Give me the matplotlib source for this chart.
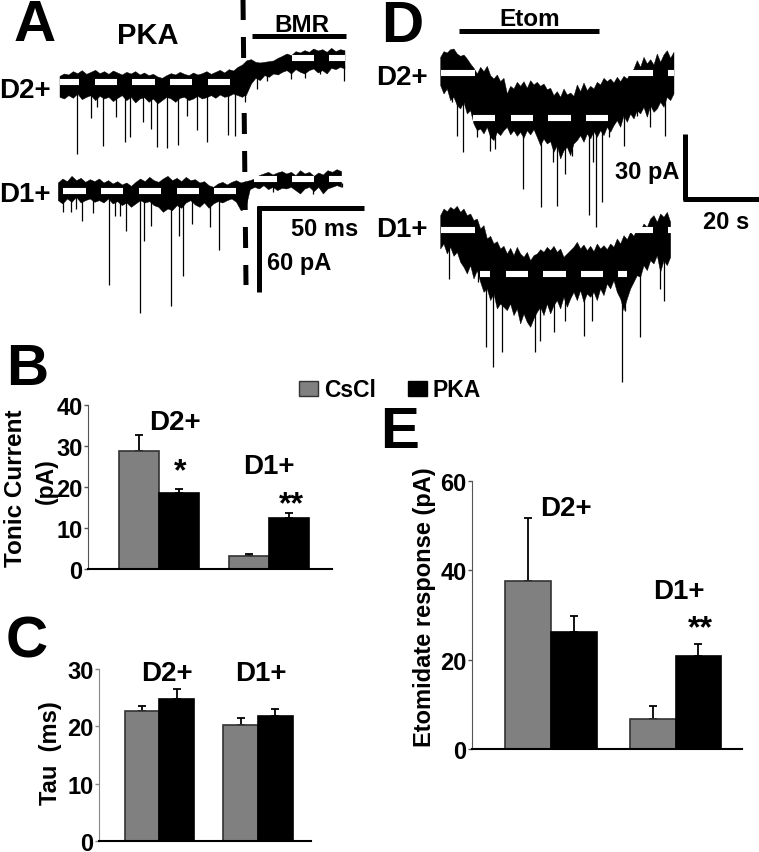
import numpy as np
import matplotlib
matplotlib.use("Agg")
import matplotlib.pyplot as plt
from matplotlib.patches import Patch

plt.rcParams['font.family'] = ['Liberation Sans', 'DejaVu Sans']
plt.rcParams['font.weight'] = 'bold'

W, H = 759, 853
GRAY = '#808080'

groups = ["D2+", "D1+"]

# bar panels: mean and top of the error bar, for D2+ and D1+
tonic_cscl = [28.7, 3.2]
tonic_pka = [18.6, 12.4]
tonic_cscl_top = [32.7, 3.6]
tonic_pka_top = [19.4, 13.7]

tau_cscl = [22.7, 20.3]
tau_pka = [24.8, 21.9]
tau_cscl_top = [23.6, 21.5]
tau_pka_top = [26.5, 23.0]

etom_cscl = [37.7, 6.7]
etom_pka = [26.1, 20.9]
etom_cscl_top = [51.6, 9.7]
etom_pka_top = [29.7, 23.6]

# traces of panel A: upper and lower edge of the noise band, and the single events
a_d2_span = (180, 1035)
a_d2_up = [232,225,228,218,224,215,226,220,214,224,218,226,216,222,228,220,225,218,228,222,230,226,234,238,230,224,228,220,226,230,222,228,224,218,226,220,214,222,212,216,205,198,185,182,190,192,190,188,186,178,172,165,170,158,162,155,160,150,156,152,160,148,158,152,155]
a_d2_lo = [295,300,290,298,285,302,295,290,305,292,300,295,308,298,290,305,295,312,300,296,310,300,315,305,295,300,310,298,295,305,300,292,300,296,290,298,288,295,292,285,290,295,285,255,238,245,230,235,225,228,220,215,225,212,220,225,215,210,222,215,225,208,212,205,210]
a_d2_ev_x = [232,272,292,308,347,375,389,430,452,471,502,533,560,590,622,684,704,735,770,800,873,915,960,1032]
a_d2_ev_y = [465,358,325,442,355,430,415,370,390,445,448,438,352,392,430,408,410,310,270,245,240,238,225,247]

a_d1_span = (175, 1025)
a_d1_up = [552,540,548,532,545,538,550,542,548,540,552,545,555,548,558,552,562,550,540,548,535,545,550,540,532,545,538,548,535,545,542,552,548,560,565,555,550,558,550,545,552,548,545,540,530,525,520,528,522,518,525,520,530,515,525,520,532,522,528,515,520,512,518]
a_d1_lo = [605,615,600,610,595,612,605,600,610,605,612,600,615,608,620,612,625,615,605,612,608,620,625,640,630,635,620,628,612,605,618,625,612,628,615,608,612,605,600,610,635,630,572,565,570,560,572,565,575,568,570,565,575,585,570,565,578,565,585,570,565,560,565]
a_d1_ev_x = [190,212,228,245,278,328,345,360,378,421,432,452,512,537,549,575,630,656,735,820,940,1025]
a_d1_ev_y = [640,640,630,665,642,858,650,650,695,943,725,680,920,710,830,675,685,752,630,578,585,565]

# traces of panel D
d_d2_span = (212, 912)
d_d2_up = [175,158,162,152,150,165,172,168,180,195,
           208,225,205,218,202,230,240,228,248,238,
           285,262,270,250,262,248,268,245,258,250,
           262,255,272,268,290,278,295,270,288,282,
           292,258,278,252,275,262,270,250,258,238,
           248,240,252,235,248,232,240,222,210,185,
           205,175,195,182,198,165,190,168,155,178,160]
d_d2_lo = [260,285,270,305,295,320,330,310,345,335,
           375,395,390,405,385,415,425,400,410,395,
           385,408,395,412,400,418,395,408,392,415,
           440,420,435,428,460,440,480,455,445,470,
           435,425,410,430,405,420,398,415,395,410,
           385,400,380,365,385,350,370,345,360,335,
           345,325,355,320,340,330,310,325,295,305,285]
d_d2_ev_x = [247,260,280,305,320,360,375,460,513,548,561,585,605,656,668,678,696,717,762,800,840,884]
d_d2_ev_y = [310,410,460,350,415,455,450,570,625,490,622,525,470,648,490,685,610,415,440,350,385,410]

d_d1_span = (212, 902)
d_d1_up = [650,630,638,625,632,622,640,630,650,645,
           665,660,690,680,720,712,735,728,750,742,
           765,748,770,745,765,775,760,785,770,765,
           752,760,745,755,742,760,750,775,765,755,
           745,730,750,738,755,742,758,735,750,740,
           752,735,745,720,735,710,722,700,712,690,
           695,675,685,660,650,670,645,655,640,670]
d_d1_lo = [750,735,765,745,772,760,790,805,825,800,
           840,815,850,880,870,905,885,930,915,925,
           935,915,950,930,975,945,970,985,960,940,
           925,950,915,945,920,905,930,895,925,900,
           880,905,875,910,885,895,880,905,870,890,
           855,870,845,880,900,935,900,870,850,830,
           835,800,815,785,795,770,820,785,800,775]
d_d1_ev_x = [238,325,349,370,397,494,510,552,585,641,667,755,765,810,870,883]
d_d1_ev_y = [840,850,1045,1105,1060,1060,1025,1000,965,1012,965,1148,935,1015,870,905]


def px_axes(fig, x0, y0, x1, y1):
    # x0,y0 = lower left corner in image pixels (y going down)
    return fig.add_axes([x0 / W, 1 - y0 / H, (x1 - x0) / W, (y0 - y1) / H])


def draw_trace(ax, span, up, lo, ev_x, ev_y, dashes):
    up_x = np.linspace(span[0], span[1], len(up))
    lo_x = np.linspace(span[0], span[1], len(lo))
    ax.fill(np.r_[up_x, lo_x[::-1]], np.r_[up, lo[::-1]], color='black', lw=0.3, zorder=2)
    ax.vlines(ev_x, np.interp(ev_x, lo_x, lo) - 12, ev_y, color='black', lw=0.9, zorder=2)
    for dash_y, x0, x1 in dashes:
        ax.plot([x0, x1], [dash_y, dash_y], color='white', lw=4.4, solid_capstyle='butt', zorder=3)


def bar_panel(ax, cscl, pka, cscl_top, pka_top, width, xlim, ylim, yticks, spine_color):
    pos = np.arange(len(groups))
    ax.bar(pos - width / 2, cscl, width, color=GRAY, edgecolor='#333333', lw=1.2, zorder=2)
    ax.bar(pos + width / 2, pka, width, color='black', edgecolor='black', lw=1.2, zorder=2)
    for p, v, t in zip(pos - width / 2, cscl, cscl_top):
        ax.errorbar(p, v, yerr=[[0], [t - v]], color='black', lw=1.3, capsize=3, capthick=1.3, zorder=1)
    for p, v, t in zip(pos + width / 2, pka, pka_top):
        ax.errorbar(p, v, yerr=[[0], [t - v]], color='black', lw=1.3, capsize=3, capthick=1.3, zorder=1)
    ax.set_xlim(*xlim)
    ax.set_ylim(*ylim)
    ax.set_xticks([])
    ax.set_yticks(yticks)
    ax.tick_params(axis='y', length=3, width=1, color=spine_color, pad=1, labelsize=17)
    ax.spines['top'].set_visible(False)
    ax.spines['right'].set_visible(False)
    ax.spines['left'].set_color(spine_color)
    ax.spines['bottom'].set_linewidth(1.5)
    ax.patch.set_alpha(0)


fig = plt.figure(figsize=(W / 100, H / 100), dpi=100)

# full figure overlay in pixels, for lettering and calibration bars
ov = fig.add_axes([0, 0, 1, 1], zorder=5)
ov.set_xlim(0, W)
ov.set_ylim(H, 0)
ov.axis('off')
ov.patch.set_alpha(0)

# panel A traces
ax_a = px_axes(fig, 0, 330, 370, 0)
ax_a.set_xlim(0, 1110)
ax_a.set_ylim(990, 0)
ax_a.axis('off')
draw_trace(ax_a, a_d2_span, a_d2_up, a_d2_lo, a_d2_ev_x, a_d2_ev_y,
           [(250, 180, 238), (250, 285, 352), (250, 397, 465), (250, 511, 577), (250, 624, 690),
            (177, 876, 942), (177, 988, 1035)])
draw_trace(ax_a, a_d1_span, a_d1_up, a_d1_lo, a_d1_ev_x, a_d1_ev_y,
           [(576, 190, 258), (576, 303, 370), (576, 417, 483), (576, 530, 597), (576, 642, 708),
            (540, 763, 830), (540, 875, 942), (540, 988, 1027)])

# panel D traces
ax_d = px_axes(fig, 370, 390, 759, 0)
ax_d.set_xlim(0, 1167)
ax_d.set_ylim(1170, 0)
ax_d.axis('off')
draw_trace(ax_d, d_d2_span, d_d2_up, d_d2_lo, d_d2_ev_x, d_d2_ev_y,
           [(222, 212, 315), (222, 765, 848), (222, 893, 912),
            (356, 310, 375), (356, 422, 488), (356, 535, 602), (356, 647, 715)])
draw_trace(ax_d, d_d1_span, d_d1_up, d_d1_lo, d_d1_ev_x, d_d1_ev_y,
           [(692, 212, 315), (692, 770, 848), (692, 893, 902),
            (825, 330, 360), (825, 407, 475), (825, 520, 587), (825, 633, 700), (825, 745, 770)])

# bar panels
ax_b = px_axes(fig, 88, 570, 332, 405.7)
bar_panel(ax_b, tonic_cscl, tonic_pka, tonic_cscl_top, tonic_pka_top, 0.364,
          (-0.645, 1.573), (0, 40), [0, 10, 20, 30, 40], '#555555')
ax_c = px_axes(fig, 99, 842.3, 311, 670)
bar_panel(ax_c, tau_cscl, tau_pka, tau_cscl_top, tau_pka_top, 0.355,
          (-0.614, 1.538), (0, 30), [0, 10, 20, 30], '#888888')
ax_e = px_axes(fig, 472, 750.3, 742, 481.7)
bar_panel(ax_e, etom_cscl, etom_pka, etom_cscl_top, etom_pka_top, 0.366,
          (-0.635, 1.534), (0, 60), [0, 20, 40, 60], '#555555')

handles = [Patch(facecolor=GRAY, edgecolor='#333333', label='CsCl'),
           Patch(facecolor='black', edgecolor='black', label='PKA')]
fig.legend(handles=handles, ncol=2, frameon=False, fontsize=16.5, handlelength=0.83, handleheight=0.62,
           handletextpad=0.25, columnspacing=1.4, loc='center left',
           bbox_to_anchor=(299 / W, 1 - 391 / H), borderpad=0, borderaxespad=0)

# panel letters
for s, x, y in [("A", 35, 26), ("D", 402, 27), ("B", 27, 370), ("C", 27, 643), ("E", 400, 433)]:
    ov.text(x, y, s, fontsize=42, ha='center', va='center')

# labels: text, x, y, size
labels = [("PKA", 148, 36, 21), ("BMR", 302, 25, 17.5), ("Etom", 530, 19, 17.5),
          ("D2+", 25, 91, 20), ("D1+", 25, 195, 20), ("D2+", 402, 78, 20), ("D1+", 402, 230, 20),
          ("50 ms", 325, 229, 17), ("60 pA", 299, 263, 17), ("30 pA", 647, 172, 17), ("20 s", 726, 222, 17),
          ("D2+", 175, 423, 20), ("D1+", 269, 467, 20), ("D2+", 167, 674, 20), ("D1+", 261, 674, 20),
          ("D2+", 566, 509, 20), ("D1+", 679, 592, 20)]
for s, x, y, size in labels:
    ov.text(x, y, s, fontsize=size, ha='center', va='center')

for s, x, y in [("*", 180, 472), ("**", 291, 505), ("**", 700, 629)]:
    ov.text(x, y, s, fontsize=23, ha='center', va='center')

ov.text(16, 488, "Tonic Current", fontsize=17.5, rotation=90, ha='center', va='center')
ov.text(46, 481, "(pA)", fontsize=16.5, rotation=90, ha='center', va='center')
ov.text(50, 753, "Tau  (ms)", fontsize=17, rotation=90, ha='center', va='center')
ov.text(425, 607, "Etomidate response (pA)", fontsize=17, rotation=90, ha='center', va='center')

# treatment bars, calibration bars and the break in panel A
bar_kw = dict(color='black', lw=3.6, solid_capstyle='butt')
ov.plot([252, 346], [37, 37], **bar_kw)
ov.plot([459, 599], [32, 32], **bar_kw)
ov.plot([259, 259], [293, 207], **bar_kw)
ov.plot([257, 364], [209, 209], **bar_kw)
ov.plot([685, 685], [135, 201], **bar_kw)
ov.plot([683, 759], [199.5, 199.5], **bar_kw)
ov.plot([243, 246], [0, 286], color='black', lw=3.6, linestyle=(0, (4.2, 3.4)), dash_capstyle='butt')

fig.savefig("out.png", dpi=100)
